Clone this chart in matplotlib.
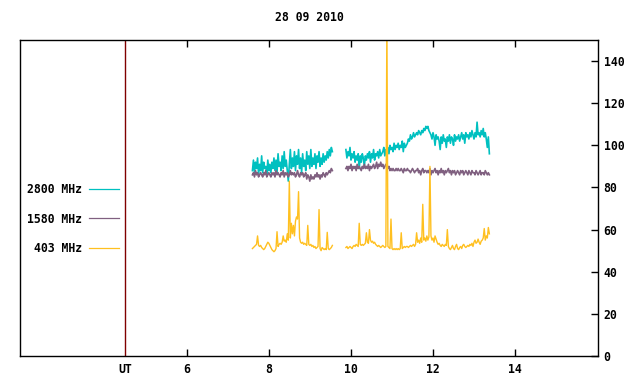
import numpy as np
import matplotlib
matplotlib.use('Agg')
import matplotlib.pyplot as plt

# time sampling (hours UT)
SEG1_START, SEG2_START, STEP = 7.60, 9.88, 0.025

# 2800 MHz
c2800_a = [88, 93, 87, 92, 89, 94, 86, 91, 88, 95, 87, 92, 89, 90, 86, 93, 88, 91, 87, 92,
           89, 94, 88, 93, 87, 96, 90, 92, 88, 95, 89, 97, 90, 93, 88, 83, 91, 98, 89, 94,
           90, 97, 88, 95, 91, 98, 89, 94, 87, 96, 90, 93, 88, 97, 91, 95, 89, 98, 90, 94,
           91, 96, 89, 95, 92, 97, 90, 94, 91, 96, 92, 95, 93, 97, 94, 98, 95, 99, 97]
c2800_b = [98, 94, 97, 95, 99, 93, 96, 94, 97, 92,
           95, 93, 96, 89, 95, 92, 96, 94, 90, 95,
           93, 96, 94, 97, 92, 96, 94, 98, 93, 96,
           95, 97, 94, 98, 95, 96, 97, 99, 95, 98,
           97, 99, 96, 100, 98, 99, 97, 101, 98, 100,
           99, 101, 98, 100, 99, 102, 97, 101, 99, 100,
           101, 103, 102, 105, 103, 104, 106, 104, 105, 106,
           105, 107, 106, 105, 107, 106, 108, 107, 109, 108,
           109, 107, 106, 105, 103, 106, 104, 100, 105, 103,
           104, 102, 98, 104, 101, 105, 102, 103, 99, 104,
           102, 105, 101, 104, 103, 100, 105, 102, 104, 103,
           105, 102, 104, 106, 103, 105, 101, 106, 104, 105,
           103, 106, 104, 107, 105, 103, 106, 104, 111, 105,
           106, 104, 107, 105, 108, 104, 106, 103, 99, 104, 96]

# 1580 MHz
c1580_a = [86, 87, 85, 88, 86, 87, 85, 86, 87, 86, 85, 87, 86, 88, 85, 86, 87, 86, 85, 87,
           86, 87, 85, 88, 86, 87, 86, 85, 87, 86, 88, 85, 87, 86, 87, 85, 86, 88, 86, 87,
           86, 87, 85, 86, 88, 86, 85, 87, 86, 87, 85, 86, 87, 84, 86, 85, 83, 86, 84, 85,
           84, 86, 85, 87, 85, 86, 84, 86, 85, 87, 86, 85, 87, 86, 87, 88, 87, 89, 88]
c1580_b = [89, 90, 88, 90, 89, 91, 88, 90, 89, 90, 88, 91, 89, 90, 89, 88, 90, 89, 91, 89,
           90, 89, 91, 88, 90, 89, 90, 91, 89, 90, 92, 89, 91, 90, 92, 90, 91, 89, 90, 91,
           90, 89, 90, 88, 89, 88, 89, 88, 88, 89,
           88, 89, 88, 88, 89, 88, 87, 89, 88, 88, 89, 88, 88, 87, 88, 89, 88, 87, 88, 88,
           89, 87, 88, 86, 88, 89, 87, 88, 88, 87,
           88, 87, 89, 86, 88, 87, 88, 89, 87, 88, 86, 88, 87, 89, 87, 88, 86, 88, 87, 88,
           89, 87, 88, 86, 88, 87, 88, 86, 87, 88,
           87, 86, 88, 87, 88, 86, 87, 88, 87, 86, 88, 87, 86, 88, 87, 87, 86, 88, 87, 86,
           87, 88, 86, 87, 87, 86, 88, 87, 86, 87, 86]

# 403 MHz
c403_a = [51, 51.5, 52, 52.5, 53, 57, 52.5, 52, 52.5, 51.5,
          51, 50.5, 51, 52, 53, 54, 53.5, 52.5, 51.5, 50.5,
          50, 49.5, 50, 51, 59, 52, 53, 53.5, 53, 54,
          57, 54.5, 55, 54, 58, 55, 83, 56, 63, 58,
          62, 57, 64, 66, 65, 78, 56, 54, 53.5, 54,
          53, 53.5, 53, 52.5, 62, 53, 52.5, 53, 52, 52.5,
          51.5, 52, 51, 51.5, 52, 69.5, 51, 50, 51.5, 51,
          50.5, 51, 50.5, 58.7, 51, 50.5, 51, 51.5, 52.5]
c403_b = [51.5, 52, 51, 51.5, 52, 51.5, 51, 52, 52.5, 52,
          53, 52.5, 52, 63, 53, 52.5, 53, 52.5, 53, 53.5,
          58.5, 54, 53.5, 60, 55, 54, 54.5, 53.5, 54, 53,
          52.5, 52, 52.5, 52, 51.5, 52, 52.5, 52, 51.5, 52,
          160, 52, 51.5, 51, 65, 51, 50.5, 51, 50.5, 51,
          50.5, 51, 50.5, 51, 58.5, 51, 51.5, 52, 51.5, 52,
          52, 51.5, 52, 52.5, 52, 52.5, 53, 52, 53, 58.5,
          54, 55, 53.5, 56, 54, 72, 55, 56, 54.5, 57,
          55, 56.5, 90, 57, 55, 56, 54, 57, 55.5, 54,
          53, 53.5, 52.5, 52, 53, 52.5, 52, 53, 52.5, 60,
          52, 51, 50.5, 51.5, 52.5, 51, 50.5, 52, 53, 51,
          50.5, 51.5, 52, 51, 52.5, 53, 52, 51.5, 52, 52.5,
          52, 53, 52.5, 53.5, 52, 54, 55, 53.5, 54, 55.5,
          54, 53, 54.5, 55, 56, 60.5, 55, 57, 56, 61, 58]

x_ticks = [6, 8, 10, 12, 14]
y_ticks = [0, 20, 40, 60, 80, 100, 120, 140]
ut_pos = 4.5

def times(start, vals):
    return start + STEP * np.arange(len(vals))

plt.rcParams['font.family'] = ['DejaVu Sans Mono']
plt.rcParams['font.weight'] = 'bold'
plt.rcParams['font.size'] = 8.3

fig = plt.figure(figsize=(6.4, 3.84), dpi=100)
ax = fig.add_axes([20 / 640, 28 / 384, 578 / 640, 316 / 384])

series = [('2800 MHz', '#00c0c0', c2800_a, c2800_b, 1.2),
          ('1580 MHz', '#806080', c1580_a, c1580_b, 1.2),
          ('403 MHz', '#ffc020', c403_a, c403_b, 1.0)]
for name, col, a, b, lw in series:
    ax.plot(times(SEG1_START, a), a, color=col, lw=lw, label=name)
    ax.plot(times(SEG2_START, b), b, color=col, lw=lw)

ax.axvline(ut_pos, color='#800000', lw=1)

ax.set_xlim(1.93, 16.03)
ax.set_ylim(0, 150)
ax.set_xticks([ut_pos] + x_ticks)
ax.set_xticklabels(['UT'] + [str(v) for v in x_ticks])
ax.set_yticks(y_ticks)
ax.yaxis.tick_right()
ax.tick_params(axis='x', direction='in', length=5, width=1, top=True, pad=5)
ax.tick_params(axis='y', direction='in', length=5, width=1, left=False, right=True, pad=4)
ax.xaxis.get_major_ticks()[0].tick1line.set_visible(False)
ax.xaxis.get_major_ticks()[0].tick2line.set_visible(False)
for s in ax.spines.values():
    s.set_linewidth(1)

ax.set_title('28 09 2010', pad=14, fontsize=8.3, fontweight='bold')

leg = ax.legend(loc='upper left', bbox_to_anchor=(0.0, 0.57), markerfirst=False, frameon=False,
                handlelength=2.6, handletextpad=0.6, labelspacing=1.45, fontsize=8.3,
                borderaxespad=0.2)
for h in leg.get_lines():
    h.set_linewidth(0.9)

fig.savefig('out.png', dpi=100)
